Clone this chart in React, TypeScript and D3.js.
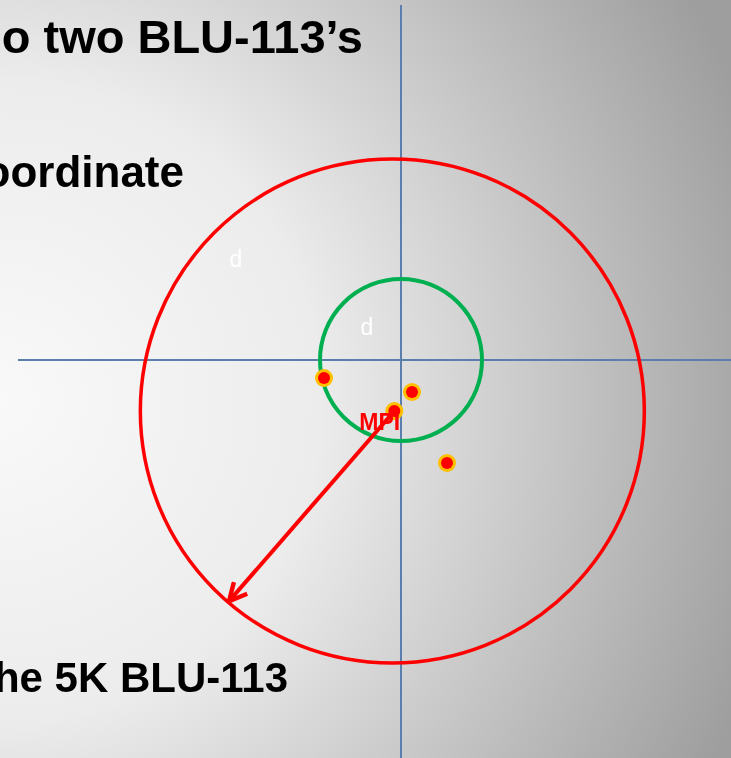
import React from 'react';
import * as d3 from 'd3';

// impact points, in feet from the aim point (x right, y up)
const impactX = [-3.85, 0.55, 2.3];
const impactY = [-0.9, -1.6, -5.15];

// circle radii
const cepRadius = 4.05; // green circle round the aim point
const mpiRadius = 12.6; // red circle round the MPI
const arrowAngle = 229; // degrees, direction of the radius arrow

// small "d" labels
const dLabels = [
  { x: -8.25, y: 4.65 },
  { x: -1.7, y: 1.25 },
];

const slideLines = [
  { text: 'o two BLU-113’s', x: 363, y: 53, size: 47 },
  { text: 'oordinate', x: 184, y: 187, size: 44 },
  { text: 'he 5K BLU-113', x: 288, y: 692, size: 42 },
];

export default function App() {
  const width = 731;
  const height = 758;

  const x = d3.scaleLinear().domain([-20, 16.5]).range([1, width]);
  const y = d3.scaleLinear().domain([18, -19.9]).range([0, height]);
  const px = x(1) - x(0);

  const mpiX = d3.mean(impactX)!;
  const mpiY = d3.mean(impactY)!;

  const a = (arrowAngle * Math.PI) / 180;
  const tipX = mpiX + mpiRadius * Math.cos(a);
  const tipY = mpiY + mpiRadius * Math.sin(a);

  const font = '"Liberation Sans", Arial, sans-serif';

  return (
    <svg
      width={width}
      height={height}
      style={{ position: 'fixed', left: 0, top: 0, display: 'block' }}
    >
      <defs>
        <radialGradient id="bg" gradientUnits="userSpaceOnUse" cx={0} cy={400} r={800}>
          <stop offset="0" stopColor="#f9f9f9" />
          <stop offset="0.4" stopColor="#ececec" />
          <stop offset="0.67" stopColor="#c9c9c9" />
          <stop offset="1" stopColor="#9e9e9e" />
        </radialGradient>
        <marker
          id="head"
          viewBox="0 0 20 20"
          refX={18}
          refY={10}
          markerWidth={22}
          markerHeight={22}
          markerUnits="userSpaceOnUse"
          orient="auto"
        >
          <path d="M2,2 L18,10 L2,18" fill="none" stroke="#ff0000" strokeWidth={4} />
        </marker>
      </defs>

      <rect width={width} height={height} fill="url(#bg)" />

      {slideLines.map((t) => (
        <text
          key={t.text}
          x={t.x}
          y={t.y}
          textAnchor="end"
          fontFamily={font}
          fontWeight="bold"
          fontSize={t.size}
          fill="#000"
        >
          {t.text}
        </text>
      ))}

      {/* axes */}
      <line x1={x(-19.15)} x2={width} y1={y(0)} y2={y(0)} stroke="#5a7eae" strokeWidth={2} />
      <line x1={x(0)} x2={x(0)} y1={y(17.75)} y2={height} stroke="#5a7eae" strokeWidth={2} />

      <circle
        cx={x(mpiX) - 2}
        cy={y(mpiY)}
        r={mpiRadius * px}
        fill="none"
        stroke="#ff0000"
        strokeWidth={3.5}
      />
      <circle cx={x(0)} cy={y(0)} r={cepRadius * px} fill="none" stroke="#00b050" strokeWidth={4} />

      {dLabels.map((d, i) => (
        <text key={i} x={x(d.x)} y={y(d.y)} textAnchor="middle" fontFamily={font} fontSize={23} fill="#ffffff">
          d
        </text>
      ))}

      {impactX.map((v, i) => (
        <g key={i}>
          <circle cx={x(v)} cy={y(impactY[i])} r={9} fill="#ffc000" />
          <circle cx={x(v)} cy={y(impactY[i])} r={6} fill="#ff0000" />
        </g>
      ))}

      <circle cx={x(mpiX)} cy={y(mpiY)} r={9} fill="#ffc000" />
      <circle cx={x(mpiX)} cy={y(mpiY)} r={6} fill="#ff0000" />
      <text x={x(mpiX) - 35} y={y(mpiY) + 19} fontFamily={font} fontWeight="bold" fontSize={23} fill="#ff0000">
        MPI
      </text>

      <line
        x1={x(mpiX)}
        y1={y(mpiY)}
        x2={x(tipX)}
        y2={y(tipY)}
        stroke="#ff0000"
        strokeWidth={4}
        markerEnd="url(#head)"
      />
    </svg>
  );
}
